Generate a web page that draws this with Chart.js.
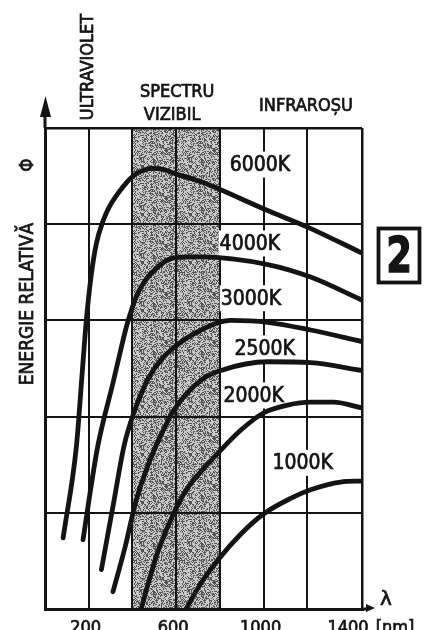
<!DOCTYPE html>
<html>
<head>
<meta charset="utf-8">
<title>Energie relativă</title>
<script src="https://cdn.jsdelivr.net/npm/chart.js@4.4.1/dist/chart.umd.min.js"></script>
<style>
  html, body { margin: 0; padding: 0; background: #fff; }
  #wrap { width: 427px; height: 630px; }
</style>
</head>
<body>
<div id="wrap"><canvas id="grafic" width="427" height="630"></canvas></div>
<script>
// Curbele de emisie: lungimea de undă (nm) și energia relativă pentru fiecare temperatură
const temperaturi = ['6000K', '4000K', '3000K', '2500K', '2000K', '1000K'];

const lambda6000 = [83, 144, 171, 189, 212, 235, 265, 294, 334, 372, 408, 450, 486, 540, 590, 714, 1010, 1201, 1450];
const energie6000 = [0.74, 1.70, 2.48, 3.00, 3.48, 3.80, 4.03, 4.18, 4.32, 4.43, 4.51, 4.56, 4.58, 4.57, 4.53, 4.44, 4.15, 3.97, 3.70];

const lambda4000 = [174, 207, 242, 312, 345, 372, 400, 430, 486, 590, 714, 1019, 1215, 1450];
const energie4000 = [0.72, 1.22, 1.70, 2.36, 2.68, 2.93, 3.14, 3.31, 3.49, 3.65, 3.66, 3.58, 3.45, 3.21];

const lambda3000 = [258, 312, 362, 408, 454, 486, 531, 590, 714, 850, 1019, 1215, 1450];
const energie3000 = [0.41, 1.08, 1.70, 2.05, 2.31, 2.45, 2.59, 2.72, 2.90, 3.00, 2.98, 2.90, 2.78];

const lambda2500 = [311, 367, 417, 486, 531, 590, 714, 805, 1019, 1215, 1450];
const energie2500 = [0.18, 0.65, 1.13, 1.58, 1.81, 2.07, 2.38, 2.48, 2.57, 2.56, 2.48];

const lambda2000 = [440, 480, 520, 590, 650, 714, 791, 896, 1001, 1110, 1215, 1320, 1450];
const energie2000 = [0.00, 0.33, 0.62, 1.00, 1.25, 1.43, 1.62, 1.86, 2.04, 2.12, 2.15, 2.15, 2.09];

const lambda1000 = [645, 714, 791, 896, 1001, 1124, 1215, 1352, 1450];
const energie1000 = [0.00, 0.27, 0.51, 0.78, 0.99, 1.15, 1.24, 1.32, 1.33];

// etichetele de pe axa lungimilor de undă
const etichetaX = [200, 600, 1000, 1400];

// domeniul vizibil (nm)
const vizibil = [400, 800];

const lambde = [lambda6000, lambda4000, lambda3000, lambda2500, lambda2000, lambda1000];
const energii = [energie6000, energie4000, energie3000, energie2500, energie2000, energie1000];

// unde stă fiecare etichetă de temperatură (în unități de grafic)
const pozitiiEtichete = [[983, 4.62], [937, 3.80], [942, 3.23], [1005, 2.71], [955, 2.22], [1179, 1.52]];

const negru = '#141414';
const fontIngust = '"DejaVu Sans Condensed", "DejaVu Sans", sans-serif';

const seturi = temperaturi.map((t, i) => ({
    label: t,
    data: lambde[i].map((l, k) => ({ x: l, y: energii[i][k] })),
    showLine: true,
    borderColor: negru,
    borderWidth: 4.8,
    borderCapStyle: 'round',
    borderJoinStyle: 'round',
    cubicInterpolationMode: 'monotone',
    pointRadius: 0
}));

// raster tipografic pentru banda gri (puncte închise pe fond deschis)
function raster() {
    const c = document.createElement('canvas');
    c.width = 48;
    c.height = 48;
    const g = c.getContext('2d');
    const img = g.createImageData(48, 48);
    let s = 12345;
    for (let i = 0; i < 48 * 48; i++) {
        s = (s * 1103515245 + 12345) % 2147483648;
        const v = (s / 2147483648) < 0.42 ? 85 : 200;
        img.data[i * 4] = v;
        img.data[i * 4 + 1] = v;
        img.data[i * 4 + 2] = v;
        img.data[i * 4 + 3] = 255;
    }
    g.putImageData(img, 0, 0);
    return c;
}

// banda gri a spectrului vizibil, sub grilă
const fundal = {
    id: 'fundal',
    beforeDraw(chart) {
        const { ctx, chartArea, scales: { x } } = chart;
        ctx.save();
        ctx.fillStyle = ctx.createPattern(raster(), 'repeat');
        const x0 = x.getPixelForValue(vizibil[0]);
        const x1 = x.getPixelForValue(vizibil[1]);
        ctx.fillRect(x0, chartArea.top, x1 - x0, chartArea.bottom - chartArea.top);
        ctx.restore();
    }
};

function scrie(ctx, text, x, y) {
    ctx.fillText(text, x, y);
    ctx.strokeText(text, x, y);
}

// temperaturile scrise pe grafic, pe fond alb care întrerupe grila
const etichete = {
    id: 'etichete',
    beforeDatasetsDraw(chart) {
        const { ctx, scales: { x, y } } = chart;
        ctx.save();
        ctx.font = '21px ' + fontIngust;
        ctx.textAlign = 'center';
        ctx.textBaseline = 'middle';
        ctx.strokeStyle = negru;
        ctx.lineWidth = 0.7;
        pozitiiEtichete.forEach((p, i) => {
            const px = x.getPixelForValue(p[0]);
            const py = y.getPixelForValue(p[1]);
            const w = ctx.measureText(temperaturi[i]).width;
            ctx.fillStyle = '#fff';
            ctx.fillRect(px - w / 2 - 1, py - 13, w + 2, 26);
            ctx.fillStyle = negru;
            scrie(ctx, temperaturi[i], px, py + 1);
        });
        ctx.restore();
    }
};

function textRotit(ctx, text, x, y) {
    ctx.save();
    ctx.translate(x, y);
    ctx.rotate(-Math.PI / 2);
    scrie(ctx, text, 0, 0);
    ctx.restore();
}

// săgețile axelor, denumirile domeniilor și numărul figurii
const adnotari = {
    id: 'adnotari',
    afterDraw(chart) {
        const { ctx, chartArea: a, scales: { x } } = chart;
        ctx.save();
        ctx.strokeStyle = negru;
        ctx.fillStyle = negru;

        // axa verticală prelungită cu săgeată
        ctx.lineWidth = 3;
        ctx.beginPath();
        ctx.moveTo(a.left, a.top);
        ctx.lineTo(a.left, a.top - 22);
        ctx.stroke();
        ctx.beginPath();
        ctx.moveTo(a.left + 0.5, a.top - 32);
        ctx.lineTo(a.left - 5, a.top - 11);
        ctx.lineTo(a.left + 6, a.top - 11);
        ctx.closePath();
        ctx.fill();

        // axa orizontală prelungită cu săgeată
        ctx.beginPath();
        ctx.moveTo(a.right, a.bottom);
        ctx.lineTo(a.right + 6, a.bottom);
        ctx.stroke();
        ctx.beginPath();
        ctx.moveTo(a.right + 13, a.bottom - 1);
        ctx.lineTo(a.right + 4, a.bottom - 5);
        ctx.lineTo(a.right + 4, a.bottom + 3);
        ctx.closePath();
        ctx.fill();

        ctx.textAlign = 'center';
        ctx.textBaseline = 'middle';
        ctx.lineWidth = 0.7;

        // domeniile spectrului
        ctx.font = '18px ' + fontIngust;
        textRotit(ctx, 'ULTRAVIOLET', 88, 67);
        const mijloc = x.getPixelForValue((vizibil[0] + vizibil[1]) / 2);
        scrie(ctx, 'SPECTRU', mijloc + 1, 92);
        scrie(ctx, 'VIZIBIL', mijloc - 4, 115);
        scrie(ctx, 'INFRAROȘU', 306, 106);

        // titlul axei verticale
        ctx.font = '19px ' + fontIngust;
        textRotit(ctx, 'ENERGIE RELATIVĂ', 28, 304);
        textRotit(ctx, 'Φ', 28, 165);

        // axa orizontală: λ, unitatea și valorile
        ctx.font = '20px "DejaVu Sans", sans-serif';
        scrie(ctx, 'λ', 386, 600);
        ctx.textBaseline = 'alphabetic';
        ctx.font = '18px ' + fontIngust;
        etichetaX.forEach(v => {
            scrie(ctx, String(v), x.getPixelForValue(v) - 3, 633);
        });
        scrie(ctx, '[nm]', 395, 633);

        // numărul figurii în chenar
        ctx.lineWidth = 3.8;
        ctx.strokeRect(378.5, 228.5, 41, 54);
        ctx.save();
        ctx.translate(399, 257);
        ctx.scale(0.74, 1);
        ctx.font = 'bold 50px "DejaVu Sans", sans-serif';
        ctx.textBaseline = 'middle';
        ctx.lineWidth = 1.5;
        scrie(ctx, '2', 0, 2);
        ctx.restore();

        ctx.restore();
    }
};

const latimeGrila = (margine) => (c) => {
    const v = c.tick ? c.tick.value : null;
    if (v === 0) return 3;
    if (v === margine) return 2.5;
    return 2;
};

new Chart(document.getElementById('grafic'), {
    type: 'scatter',
    data: { datasets: seturi },
    options: {
        responsive: false,
        animation: false,
        layout: { padding: { left: 45, top: 128, right: 65, bottom: 21 } },
        plugins: {
            legend: { display: false },
            tooltip: { enabled: false }
        },
        scales: {
            x: {
                type: 'linear',
                min: 0,
                max: 1450,
                ticks: { display: false, stepSize: 200 },
                grid: { color: negru, lineWidth: latimeGrila(1450), drawTicks: false, tickLength: 0 },
                border: { color: negru, width: 3 }
            },
            y: {
                min: 0,
                max: 5,
                ticks: { display: false, stepSize: 1 },
                grid: { color: negru, lineWidth: latimeGrila(5), drawTicks: false, tickLength: 0 },
                border: { color: negru, width: 3 }
            }
        }
    },
    plugins: [fundal, etichete, adnotari]
});
</script>
</body>
</html>
